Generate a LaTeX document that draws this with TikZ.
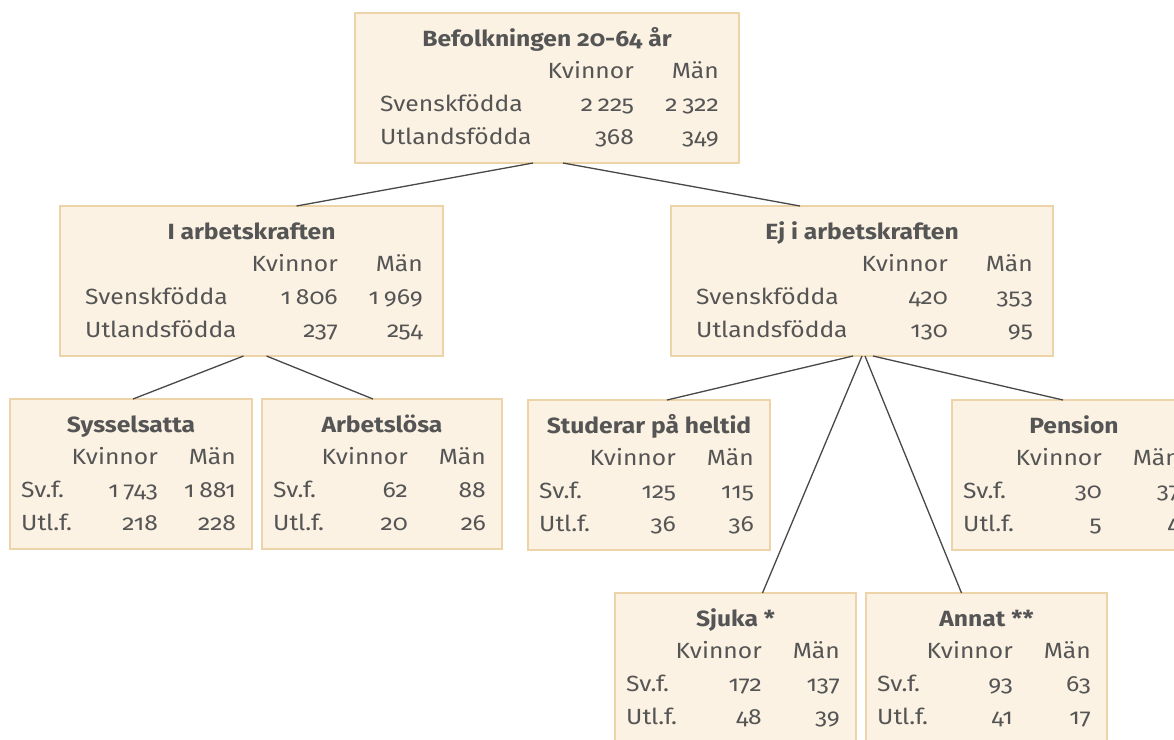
\documentclass[tikz,border=0pt]{standalone}
\usepackage{fontspec}
\setmainfont{Fira Sans}[Numbers=OldStyle, FakeStretch=1.12]
\usetikzlibrary{calc}
\definecolor{boxfill}{HTML}{FBF2E3}
\definecolor{boxline}{HTML}{EDD3A8}
\definecolor{txtcol}{HTML}{555555}
\definecolor{linecol}{HTML}{484848}
\newcommand\thsp{\hspace{0.22em}}
\tikzset{
  box/.style={draw=boxline, fill=boxfill, line width=1.2pt, minimum height=150pt, inner sep=0pt, outer sep=0pt, rectangle},
  ttl/.style={font=\fontsize{22}{22}\selectfont\bfseries, text=txtcol, inner sep=0pt},
  txt/.style={font=\fontsize{22}{22}\selectfont, text=txtcol, inner sep=0pt},
  conn/.style={draw=linecol, line width=1.3pt},
}
\newcommand\mkbox[5]{%
  \node[box, minimum width=#4pt, anchor=north west] (#1) at (#2,#3) {};
  \node[ttl, anchor=base] (#1-t) at ([yshift=-33pt]#1.north) {#5};
}
\newcommand\mkrows[7]{%
  \node[txt, anchor=base east] (#1-k) at ([xshift=-\kx, yshift=-65pt]#1.north east) {Kvinnor};
  \node[txt, anchor=base east] (#1-m) at ([xshift=-\mx, yshift=-65pt]#1.north east) {Män};
  \node[txt, anchor=base west] (#1-la) at ([xshift=\lx, yshift=-98pt]#1.north west) {#2};
  \node[txt, anchor=base east] (#1-ka) at ([xshift=-\kx, yshift=-98pt]#1.north east) {#3};
  \node[txt, anchor=base east] (#1-ma) at ([xshift=-\mx, yshift=-98pt]#1.north east) {#4};
  \node[txt, anchor=base west] (#1-lb) at ([xshift=\lx, yshift=-131pt]#1.north west) {#5};
  \node[txt, anchor=base east] (#1-kb) at ([xshift=-\kx, yshift=-131pt]#1.north east) {#6};
  \node[txt, anchor=base east] (#1-mb) at ([xshift=-\mx, yshift=-131pt]#1.north east) {#7};
}
\begin{document}
\begin{tikzpicture}[x=1pt, y=-1pt]
\useasboundingbox (0,0) rectangle (1174,739);
\clip (0,0) rectangle (1174,739);
\fill[white] (0,0) rectangle (1174,739);

% big boxes
\def\kx{105pt}\def\mx{20pt}\def\lx{25pt}
\mkbox{top}{355}{13}{384}{Befolkningen 20-64 år}
\mkrows{top}{Svenskfödda}{2\thsp225}{2\thsp322}{Utlandsfödda}{368}{349}
\mkbox{ia}{60}{206}{383}{I arbetskraften}
\mkrows{ia}{Svenskfödda}{1\thsp806}{1\thsp969}{Utlandsfödda}{237}{254}
\mkbox{ej}{671}{206}{382}{Ej i arbetskraften}
\mkrows{ej}{Svenskfödda}{420}{353}{Utlandsfödda}{130}{95}

% small boxes
\def\kx{94pt}\def\mx{16pt}\def\lx{11pt}
\mkbox{syss}{10}{399}{242}{Sysselsatta}
\mkrows{syss}{Sv.f.}{1\thsp743}{1\thsp881}{Utl.f.}{218}{228}
\mkbox{arb}{262}{399}{240}{Arbetslösa}
\mkrows{arb}{Sv.f.}{62}{88}{Utl.f.}{20}{26}
\mkbox{stud}{528}{400}{242}{Studerar på heltid}
\mkrows{stud}{Sv.f.}{125}{115}{Utl.f.}{36}{36}
\mkbox{pens}{952}{400}{244}{Pension}
\mkrows{pens}{Sv.f.}{30}{37}{Utl.f.}{5}{4}
\mkbox{sjuka}{615}{593}{241}{Sjuka *}
\mkrows{sjuka}{Sv.f.}{172}{137}{Utl.f.}{48}{39}
\mkbox{annat}{866}{593}{241}{Annat **}
\mkrows{annat}{Sv.f.}{93}{63}{Utl.f.}{41}{17}

% connectors
\draw[conn] ([xshift=-14pt]top.south) -- ([xshift=45pt]ia.north);
\draw[conn] ([xshift=16pt]top.south) -- ([xshift=-62pt]ej.north);
\draw[conn] ([xshift=-8pt]ia.south) -- ([xshift=2pt]syss.north);
\draw[conn] ([xshift=15pt]ia.south) -- ([xshift=-9pt]arb.north);
\draw[conn] ([xshift=-9pt]ej.south) -- ([xshift=18pt]stud.north);
\draw[conn] (ej.south) -- ([xshift=27pt]sjuka.north);
\draw[conn] ([xshift=3pt]ej.south) -- ([xshift=-25pt]annat.north);
\draw[conn] ([xshift=11pt]ej.south) -- ([xshift=-11pt]pens.north);
\end{tikzpicture}
\end{document}
